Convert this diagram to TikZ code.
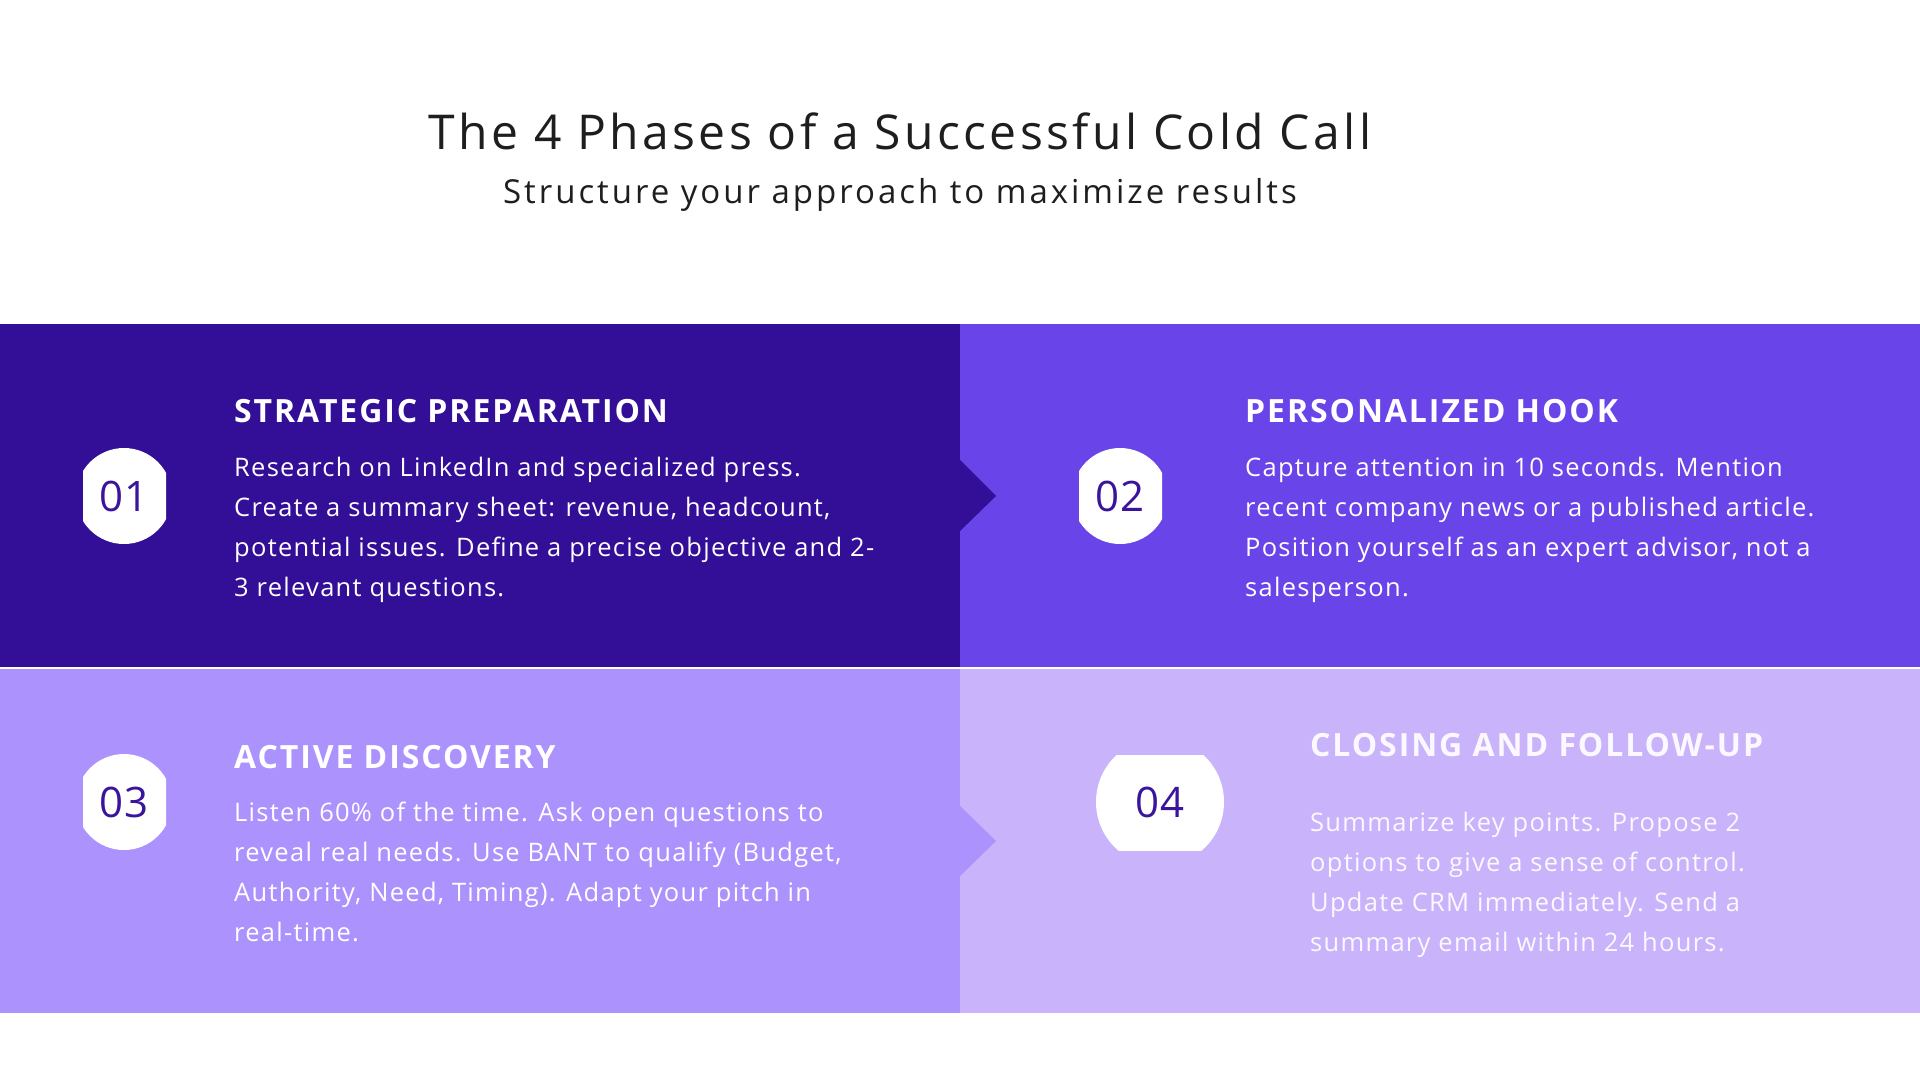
\documentclass[tikz,border=0pt]{standalone}
\usepackage{fontspec}
\setmainfont{Open Sans}
\definecolor{cA}{HTML}{330E96}
\definecolor{cB}{HTML}{6944E8}
\definecolor{cC}{HTML}{AC92FD}
\definecolor{cD}{HTML}{C9B3FB}
\definecolor{num}{HTML}{3A149C}
\definecolor{ttl}{HTML}{1E1E1E}
\tikzset{
  head/.style={anchor=base west,inner sep=0pt,font=\fontsize{32}{36}\selectfont\bfseries\addfontfeatures{LetterSpace=6},text=white},
  body/.style={anchor=base west,inner sep=0pt,align=left,font=\fontsize{25.5}{40}\selectfont\addfontfeatures{LetterSpace=5},text=white},
  numtxt/.style={inner sep=0pt,font=\fontsize{42}{42}\selectfont,text=num}
}
\begin{document}
\begin{tikzpicture}[x=1pt,y=-1pt]
\useasboundingbox (0,0) rectangle (1920,1080);
\fill[white] (0,0) rectangle (1920,1080);
\node[anchor=base,inner sep=0pt,font=\fontsize{48}{50}\selectfont\addfontfeatures{LetterSpace=7},text=ttl] (title) at (900,149) {The 4 Phases of a Successful Cold Call};
\node[anchor=base,inner sep=0pt,font=\fontsize{33}{36}\selectfont\addfontfeatures{LetterSpace=9},text=ttl] (sub) at (900,203) {Structure your approach to maximize results};
% panels
\fill[cA] (0,324) rectangle (960,667);
\fill[cB] (960,324) rectangle (1920,667);
\fill[cC] (0,669) rectangle (960,1013);
\fill[cD] (960,669) rectangle (1920,1013);
\fill[cA] (959,459) -- (996,496) -- (959,532) -- cycle;
\fill[cC] (959,805) -- (996,841) -- (959,877) -- cycle;
% badges
\begin{scope}\clip (83,440) rectangle (166,552); \fill[white] (124,496) circle (48);\end{scope}
\begin{scope}\clip (1079,440) rectangle (1162,552); \fill[white] (1120,496) circle (48);\end{scope}
\begin{scope}\clip (83,746) rectangle (166,858); \fill[white] (124,802) circle (48);\end{scope}
\begin{scope}\clip (1090,755) rectangle (1230,850); \fill[white] (1160,802) circle (64);\end{scope}
\node[numtxt] (n1) at (124,496) {01};
\node[numtxt] (n2) at (1120,496) {02};
\node[numtxt] (n3) at (124,802) {03};
\node[numtxt] (n4) at (1160,802) {04};
% texts (body anchor = last line baseline)
\node[head] (h1) at (234,422) {STRATEGIC PREPARATION};
\node[body] (b1) at (234,596) {Research on LinkedIn and specialized press.\\Create a summary sheet: revenue, headcount,\\potential issues. Define a precise objective and 2-\\3 relevant questions.};
\node[head] (h2) at (1245,422) {PERSONALIZED HOOK};
\node[body] (b2) at (1245,596) {Capture attention in 10 seconds. Mention\\recent company news or a published article.\\Position yourself as an expert advisor, not a\\salesperson.};
\node[head] (h3) at (234,768) {ACTIVE DISCOVERY};
\node[body] (b3) at (234,941) {Listen 60\% of the time. Ask open questions to\\reveal real needs. Use BANT to qualify (Budget,\\Authority, Need, Timing). Adapt your pitch in\\real-time.};
\node[head,text=white!92!cD] (h4) at (1310,756) {CLOSING AND FOLLOW-UP};
\node[body,text=white!92!cD] (b4) at (1310,951) {Summarize key points. Propose 2\\options to give a sense of control.\\Update CRM immediately. Send a\\summary email within 24 hours.};
\end{tikzpicture}
\end{document}
